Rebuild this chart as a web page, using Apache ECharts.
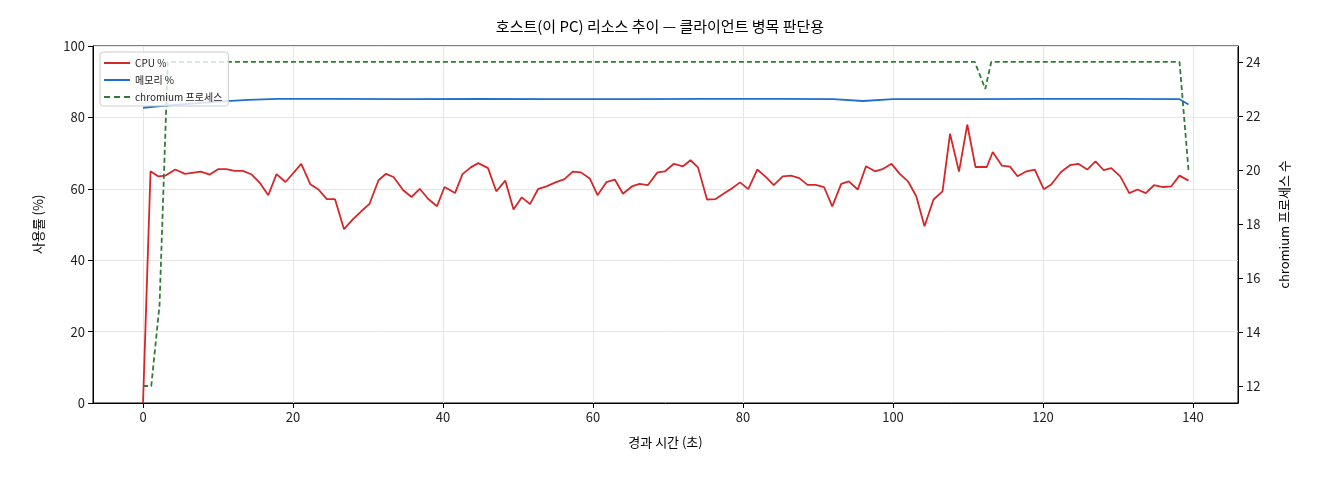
<!DOCTYPE html>
<html><head><meta charset="utf-8">
<script src="https://cdn.jsdelivr.net/npm/echarts@6/dist/echarts.min.js"></script>
<style>html,body{margin:0;padding:0;background:#fff}#c{width:1320px;height:480px}</style>
</head><body><div id="c"></div>
<script>
const cpuT=[0,1,2,3,4.3,5.6,7.7,8.9,10,11.1,12.2,13.3,14.5,15.6,16.7,17.8,19,21.1,22.3,23.4,24.5,25.6,26.8,28,29.1,30.2,31.4,32.4,33.4,34.7,35.8,36.9,38,39.2,40.2,41.6,42.6,43.7,44.7,46,47.1,48.3,49.4,50.5,51.6,52.7,53.8,55,56.2,57.3,58.4,59.6,60.6,61.8,62.9,64,65.2,66.2,67.3,68.6,69.6,70.8,72,73,74,75.2,76.3,77.4,78.5,79.6,80.7,81.9,83.1,84.1,85.3,86.4,87.5,88.6,89.7,90.8,91.9,93.1,94.1,95.3,96.4,97.6,98.7,99.8,100.9,102,103.1,104.2,105.4,106.6,107.6,108.8,109.9,111,112.5,113.3,114.5,115.6,116.6,117.8,118.9,120.1,121.1,122.4,123.6,124.7,125.9,127,128.1,129.1,130.3,131.5,132.6,133.7,134.8,136,137.1,138.2,139.4];
const cpuV=[0,64.9,63.5,63.7,65.4,64.2,64.8,64,65.5,65.5,65,65,64,61.6,58.2,64.1,61.9,67,61.3,59.8,57.1,57.1,48.7,51.5,53.7,55.8,62.4,64.2,63.3,59.6,57.7,60,57.2,55.1,60.5,58.8,64.1,66,67.2,65.8,59.3,62.3,54.2,57.6,55.7,60,60.7,61.8,62.7,64.8,64.6,62.8,58.2,61.9,62.6,58.6,60.7,61.4,61,64.6,64.9,67,66.3,68,66,57,57.1,58.6,60.1,61.8,59.9,65.4,63.2,61,63.5,63.7,63,61.1,61.1,60.5,55.1,61.4,62.1,59.8,66.3,64.9,65.6,67,64.2,62.1,57.9,49.5,57,59.3,75.4,64.8,78,66.1,66.1,70.3,66.5,66.2,63.5,64.9,65.4,59.9,61.2,64.7,66.6,67,65.4,67.7,65.2,65.8,63.5,58.8,59.8,58.8,61,60.5,60.7,63.7,62.3];
const memT=[0,3,6,10,14,18,25,35,45,55,65,75,85,92,96,100,110,120,130,138.2,139.4];
const memV=[82.7,83.3,83.8,84.4,84.9,85.2,85.2,85.1,85.2,85.1,85.1,85.2,85.2,85.1,84.6,85.1,85.1,85.2,85.2,85.1,83.6];
const prT=[0,1.1,2.2,3.3,110.9,112.3,113.1,138.2,139.4];
const prV=[12,12,15,24,24,23,24,24,20];
const xTicks=[0,20,40,60,80,100,120,140];
const y2Ticks=[12,14,16,18,20,22,24];
const z=(a,b)=>a.map((t,i)=>[t,b[i]]);
const F='"Noto Sans CJK KR","DejaVu Sans",sans-serif';
const ch=echarts.init(document.getElementById('c'));
ch.setOption({
 animation:false,
 title:{text:'호스트(이 PC) 리소스 추이 — 클라이언트 병목 판단용',left:'center',top:14,textStyle:{fontFamily:F,fontSize:15,fontWeight:'normal',color:'#000'}},
 grid:{left:93,right:82,top:46,bottom:77,show:true,borderColor:'#000',borderWidth:1},
 legend:{left:100,top:52,orient:'vertical',itemWidth:26,itemHeight:10,itemGap:7,padding:[6,6,4,4],borderColor:'#ccc',borderWidth:1,borderRadius:3,backgroundColor:'rgba(255,255,255,0.8)',textStyle:{fontFamily:F,fontSize:10,color:'#222'},
  data:[{name:'CPU %',icon:'path://M0,0h26v2h-26z'},{name:'메모리 %',icon:'path://M0,0h26v2h-26z'},{name:'chromium 프로세스',icon:'path://M0,0h6v2h-6zM10,0h6v2h-6zM20,0h6v2h-6z'}]},
 xAxis:{type:'value',min:-6.67,max:146,name:'경과 시간 (초)',nameLocation:'middle',nameGap:33,nameTextStyle:{fontFamily:F,fontSize:13,color:'#000'},
  axisLine:{onZero:false,lineStyle:{color:'#000'}},axisTick:{customValues:xTicks,length:5,lineStyle:{color:'#000'}},
  axisLabel:{customValues:xTicks,fontFamily:F,fontSize:13,color:'#222'},splitLine:{show:true,lineStyle:{color:'#e6e6e6'}}},
 yAxis:[{type:'value',min:0,max:100,interval:20,name:'사용률 (%)',nameLocation:'middle',nameGap:48,nameTextStyle:{fontFamily:F,fontSize:13,color:'#000'},
  axisLine:{show:true,onZero:false,lineStyle:{color:'#000'}},axisTick:{show:true,length:5,lineStyle:{color:'#000'}},axisLabel:{fontFamily:F,fontSize:13,color:'#222'},splitLine:{lineStyle:{color:'#e6e6e6'}}},
  {type:'value',min:11.37,max:24.59,name:'chromium 프로세스 수',nameLocation:'middle',nameGap:40,nameTextStyle:{fontFamily:F,fontSize:13,color:'#000'},
  axisLine:{show:true,onZero:false,lineStyle:{color:'#000'}},axisTick:{show:true,customValues:y2Ticks,length:5,lineStyle:{color:'#000'}},axisLabel:{customValues:y2Ticks,fontFamily:F,fontSize:13,color:'#222'},splitLine:{show:false}}],
 series:[
  {name:'CPU %',type:'line',data:z(cpuT,cpuV),showSymbol:false,symbol:'none',lineStyle:{color:'#d62728',width:1.8},itemStyle:{color:'#d62728'}},
  {name:'메모리 %',type:'line',data:z(memT,memV),showSymbol:false,symbol:'none',lineStyle:{color:'#1f6fd1',width:1.8},itemStyle:{color:'#1f6fd1'}},
  {name:'chromium 프로세스',type:'line',yAxisIndex:1,data:z(prT,prV),showSymbol:false,symbol:'none',lineStyle:{color:'#2e7d32',width:1.8,type:[5,3]},itemStyle:{color:'#2e7d32'}}
 ]
});
</script></body></html>
